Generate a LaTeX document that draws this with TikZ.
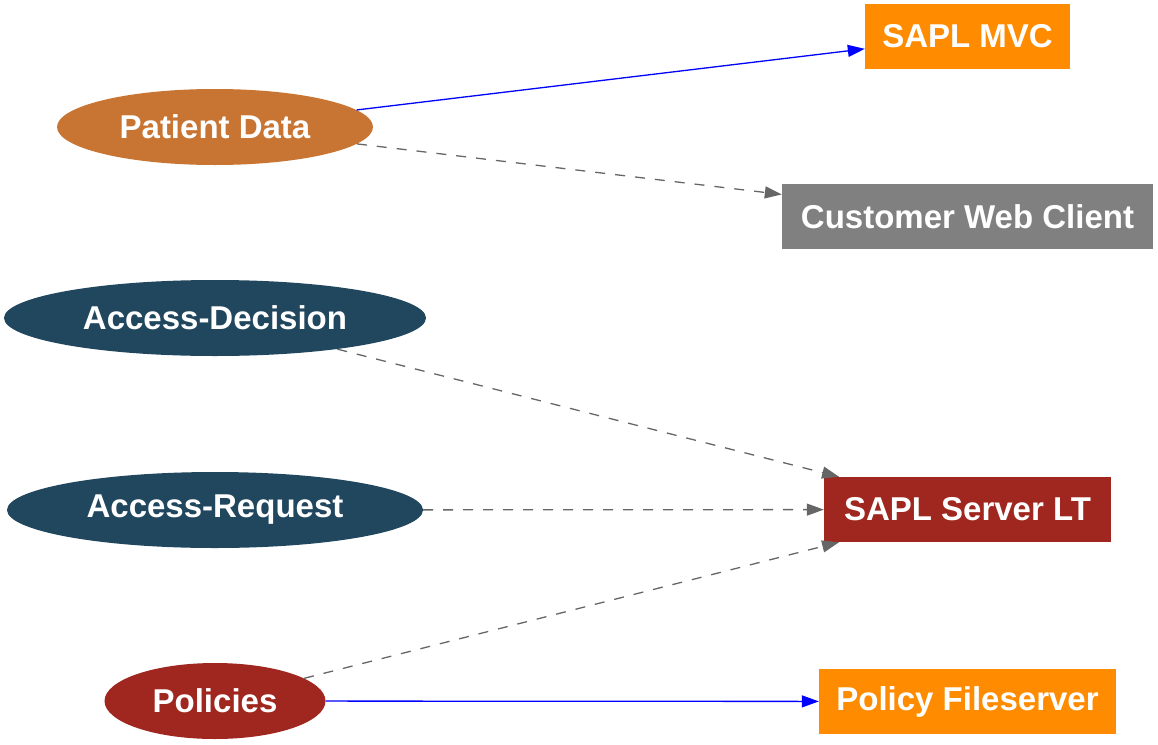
\documentclass[tikz,border=0pt]{standalone}
\usepackage{fontspec}
\setmainfont{Liberation Sans}
\usetikzlibrary{positioning,shapes.geometric,arrows.meta}

\definecolor{datacol}{HTML}{C87533}
\definecolor{msgcol}{HTML}{21475F}
\definecolor{redcol}{HTML}{A0271F}
\definecolor{appcol}{HTML}{FF8C00}
\definecolor{clientcol}{HTML}{808080}
\definecolor{edgegray}{HTML}{666666}

\tikzset{
  label font/.style={font=\fontsize{33}{40}\selectfont\bfseries, text=white},
  dataell/.style={ellipse, label font, inner sep=0pt, minimum height=76pt},
  appbox/.style={rectangle, label font, inner sep=0pt, minimum height=65pt},
  uses/.style={draw=edgegray, line width=1.3pt, dash pattern=on 10pt off 10pt, -{Triangle[length=17pt,width=12pt]}},
  feeds/.style={draw=blue, line width=1.3pt, -{Triangle[length=17pt,width=12pt]}}
}

\begin{document}
\begin{tikzpicture}[x=1pt,y=-1pt]
\useasboundingbox (0,0) rectangle (1158,744);
% left column
\node[dataell, fill=datacol, minimum width=316pt] (patient) at (215,127) {Patient Data};
\node[dataell, fill=msgcol, minimum width=422pt] (decision) at (215,318) {Access-Decision};
\node[dataell, fill=msgcol, minimum width=416pt] (request) at (215,510) {Access-Request};
\node[dataell, fill=redcol, minimum width=221pt] (policies) at (215,701) {Policies};
% right column
\node[appbox, fill=appcol, minimum width=205pt] (mvc) at (967.5,36.5) {SAPL MVC};
\node[appbox, fill=clientcol, minimum width=371pt] (webclient) at (967.5,216.5) {Customer Web Client};
\node[appbox, fill=redcol, minimum width=287pt] (server) at (967.5,509.5) {SAPL Server LT};
\node[appbox, fill=appcol, minimum width=297pt] (fileserver) at (967.5,701.5) {Policy Fileserver};
% edges
\draw[feeds] (patient) -- (mvc);
\draw[uses] (patient) -- (webclient);
\draw[uses] (decision) -- (server);
\draw[uses] (request) -- (server);
\draw[uses] (policies) -- (server);
\draw[feeds] (policies) -- (fileserver);
\end{tikzpicture}
\end{document}
